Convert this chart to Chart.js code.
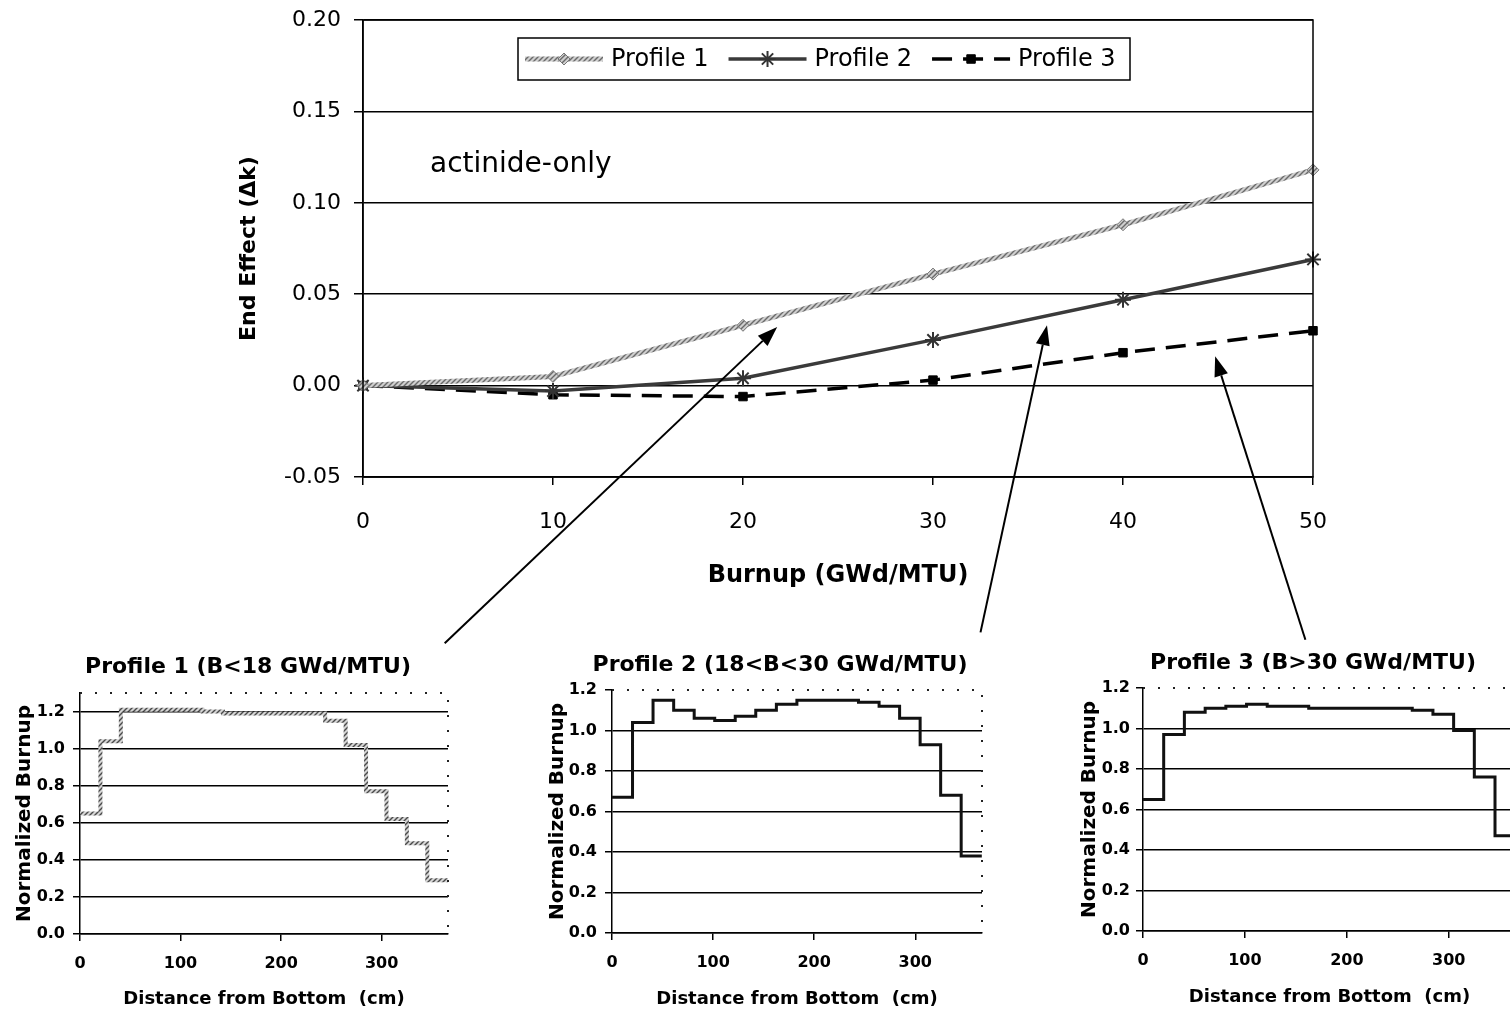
<!DOCTYPE html>
<html>
<head>
<meta charset="utf-8">
<script src="https://cdn.jsdelivr.net/npm/chart.js@4.4.1/dist/chart.umd.min.js"></script>
<style>
  html, body { margin: 0; padding: 0; background: #fff; overflow: hidden; }
  body { width: 1510px; height: 1016px; position: relative; }
  .box { position: absolute; }
</style>
</head>
<body>
<div class="box" style="left:0;top:0;width:1510px;height:660px"><canvas id="mainChart"></canvas></div>
<div class="box" style="left:0;top:650px;width:496px;height:366px"><canvas id="inset1"></canvas></div>
<div class="box" style="left:530px;top:650px;width:500px;height:366px"><canvas id="inset2"></canvas></div>
<div class="box" style="left:1060px;top:650px;width:506px;height:366px"><canvas id="inset3"></canvas></div>
<script>
// main chart: end effect vs burnup
const burnup = [0, 10, 20, 30, 40, 50];
const profile1 = [0.000, 0.005, 0.033, 0.061, 0.088, 0.118];
const profile2 = [0.000, -0.003, 0.004, 0.025, 0.047, 0.069];
const profile3 = [0.000, -0.005, -0.006, 0.003, 0.018, 0.030];

// axial profiles (18 nodes), node edges in cm
const nodeEdges = [0, 20.3, 40.6, 61.0, 81.3, 101.6, 121.9, 142.2, 162.6, 182.9,
  203.2, 223.5, 243.8, 264.2, 284.5, 304.8, 325.1, 345.4, 365.8];
const shape1 = [0.65, 1.04, 1.21, 1.21, 1.21, 1.21, 1.20, 1.19, 1.19, 1.19,
  1.19, 1.19, 1.15, 1.02, 0.77, 0.62, 0.49, 0.29];
const shape2 = [0.67, 1.04, 1.15, 1.10, 1.06, 1.05, 1.07, 1.10, 1.13, 1.15,
  1.15, 1.15, 1.14, 1.12, 1.06, 0.93, 0.68, 0.38];
const shape3 = [0.65, 0.97, 1.08, 1.10, 1.11, 1.12, 1.11, 1.11, 1.10, 1.10,
  1.10, 1.10, 1.10, 1.09, 1.07, 0.99, 0.76, 0.47];

// arrows from the insets up to the curves (data coords of main chart)
const arrowLinks = [
  { from: [4.3, -0.141], to: [21.8, 0.032] },
  { from: [32.5, -0.135], to: [36.0, 0.033] },
  { from: [49.6, -0.139], to: [44.85, 0.016] },
];

Chart.defaults.font.family = "'DejaVu Sans', sans-serif";
Chart.defaults.color = "#000";

function makeHatch(target, bg, fg) {
  const tile = document.createElement("canvas");
  tile.width = 5;
  tile.height = 5;
  const g = tile.getContext("2d");
  g.fillStyle = bg;
  g.fillRect(0, 0, 5, 5);
  g.strokeStyle = fg;
  g.lineWidth = 1.4;
  g.beginPath();
  g.moveTo(0, 5); g.lineTo(5, 0);
  g.moveTo(-1, 1); g.lineTo(1, -1);
  g.moveTo(4, 6); g.lineTo(6, 4);
  g.stroke();
  return target.getContext("2d").createPattern(tile, "repeat");
}

function fixBox(w, h) {
  return function (scale) {
    if (w !== null) scale.width = w;
    if (h !== null) scale.height = h;
    scale.paddingLeft = 0;
    scale.paddingRight = 0;
    scale.paddingTop = 0;
    scale.paddingBottom = 0;
  };
}

function toPoints(xs, ys) {
  return xs.map((x, i) => ({ x: x, y: ys[i] }));
}

function drawMarker(ctx, ds, x, y) {
  ctx.save();
  ctx.fillStyle = ds.pointBackgroundColor;
  ctx.strokeStyle = ds.pointBorderColor;
  ctx.lineWidth = ds.pointBorderWidth;
  if (Chart.helpers && Chart.helpers.drawPoint) {
    Chart.helpers.drawPoint(ctx, {
      pointStyle: ds.pointStyle,
      radius: ds.pointRadius,
      borderWidth: ds.pointBorderWidth,
      rotation: 0,
    }, x, y);
  } else {
    const r = ds.pointRadius;
    ctx.fillRect(x - r, y - r, 2 * r, 2 * r);
  }
  ctx.restore();
}

const frame = {
  id: "frame",
  afterDatasetsDraw(chart) {
    const { ctx, chartArea: a } = chart;
    ctx.save();
    ctx.strokeStyle = "#000";
    ctx.lineWidth = 1.5;
    ctx.strokeRect(a.left, a.top, a.right - a.left, a.bottom - a.top);
    ctx.restore();
  },
};

const notes = {
  id: "notes",
  afterDraw(chart) {
    const { ctx, chartArea: a } = chart;
    const xs = chart.scales.x, ys = chart.scales.y;
    ctx.save();

    // legend box
    const bx = a.left + 155, by = a.top + 18, bw = 612, bh = 42;
    ctx.fillStyle = "#fff";
    ctx.fillRect(bx, by, bw, bh);
    ctx.strokeStyle = "#000";
    ctx.lineWidth = 1.5;
    ctx.strokeRect(bx, by, bw, bh);
    ctx.font = "24px 'DejaVu Sans'";
    ctx.textBaseline = "middle";
    ctx.textAlign = "left";
    let x = bx + 7;
    const cy = by + bh / 2;
    chart.data.datasets.forEach((ds) => {
      ctx.save();
      ctx.strokeStyle = ds.borderColor;
      ctx.lineWidth = ds.borderWidth;
      ctx.setLineDash(ds.borderDash || []);
      ctx.beginPath();
      ctx.moveTo(x, cy);
      ctx.lineTo(x + 78, cy);
      ctx.stroke();
      ctx.restore();
      drawMarker(ctx, ds, x + 39, cy);
      ctx.fillStyle = "#000";
      ctx.fillText(ds.label, x + 86, cy + 1);
      x += 86 + ctx.measureText(ds.label).width + 20;
    });

    // note text
    ctx.font = "28px 'DejaVu Sans'";
    ctx.textBaseline = "alphabetic";
    ctx.fillStyle = "#000";
    ctx.fillText("actinide-only", a.left + 67, a.top + 152);

    // arrows
    ctx.strokeStyle = "#000";
    ctx.fillStyle = "#000";
    ctx.lineWidth = 2;
    arrowLinks.forEach((l) => {
      const x0 = xs.getPixelForValue(l.from[0]), y0 = ys.getPixelForValue(l.from[1]);
      const x1 = xs.getPixelForValue(l.to[0]), y1 = ys.getPixelForValue(l.to[1]);
      const ang = Math.atan2(y1 - y0, x1 - x0);
      const hl = 20, hw = 7;
      const bxp = x1 - hl * Math.cos(ang), byp = y1 - hl * Math.sin(ang);
      ctx.beginPath();
      ctx.moveTo(x0, y0);
      ctx.lineTo(bxp, byp);
      ctx.stroke();
      ctx.beginPath();
      ctx.moveTo(x1, y1);
      ctx.lineTo(bxp + hw * Math.sin(ang), byp - hw * Math.cos(ang));
      ctx.lineTo(bxp - hw * Math.sin(ang), byp + hw * Math.cos(ang));
      ctx.closePath();
      ctx.fill();
    });
    ctx.restore();
  },
};

const ctxMain = document.getElementById("mainChart");
const hatchMain = makeHatch(ctxMain, "#cfcfcf", "#6a6a6a");

new Chart(ctxMain, {
  type: "line",
  data: {
    datasets: [
      {
        label: "Profile 1",
        data: toPoints(burnup, profile1),
        borderColor: hatchMain,
        borderWidth: 5,
        pointStyle: "rectRot",
        pointRadius: 6,
        pointBackgroundColor: hatchMain,
        pointBorderColor: "#777",
        pointBorderWidth: 1,
        clip: false,
      },
      {
        label: "Profile 2",
        data: toPoints(burnup, profile2),
        borderColor: "#3a3a3a",
        borderWidth: 3.5,
        pointStyle: "star",
        pointRadius: 8,
        pointBackgroundColor: "#888",
        pointBorderColor: "#333",
        pointBorderWidth: 2,
        clip: false,
      },
      {
        label: "Profile 3",
        data: toPoints(burnup, profile3),
        borderColor: "#000",
        borderWidth: 3.5,
        borderDash: [20, 11],
        pointStyle: "rect",
        pointRadius: 6,
        pointBackgroundColor: "#000",
        pointBorderColor: "#000",
        pointBorderWidth: 1,
        clip: false,
      },
    ],
  },
  options: {
    animation: false,
    responsive: true,
    maintainAspectRatio: false,
    layout: { padding: { left: 0, top: 20, right: 197, bottom: 66 } },
    plugins: {
      legend: { display: false },
      tooltip: { enabled: false },
    },
    scales: {
      x: {
        type: "linear",
        min: 0,
        max: 50,
        ticks: { stepSize: 10, font: { size: 22 }, padding: 24, maxRotation: 0, color: "#000" },
        grid: { drawOnChartArea: false, tickLength: 8, color: "#000", lineWidth: 1.5 },
        border: { color: "#000", width: 1.5 },
        title: {
          display: true,
          text: "Burnup (GWd/MTU)",
          font: { size: 24, weight: "bold" },
          color: "#000",
          padding: { top: 0, bottom: 4 },
        },
        afterFit: fixBox(null, 117),
      },
      y: {
        min: -0.05,
        max: 0.2,
        ticks: {
          stepSize: 0.05,
          font: { size: 22 },
          padding: 13,
          color: "#000",
          callback: (v) => v.toFixed(2),
        },
        grid: { color: "#000", lineWidth: 1.5, tickLength: 9 },
        border: { color: "#000", width: 1.5 },
        title: {
          display: true,
          text: "End Effect (Δk)",
          font: { size: 22, weight: "bold" },
          color: "#000",
          padding: { top: 236, bottom: 0 },
        },
        afterFit: fixBox(363, null),
      },
    },
  },
  plugins: [frame, notes],
});

// dotted top / right edges of the small plots
const dottedFrame = {
  id: "dottedFrame",
  afterDraw(chart) {
    const { ctx, chartArea: a } = chart;
    ctx.save();
    ctx.setLineDash([2, 13]);
    ctx.strokeStyle = "#222";
    ctx.lineWidth = 2;
    ctx.beginPath();
    ctx.moveTo(a.left, a.top);
    ctx.lineTo(a.right, a.top);
    ctx.lineTo(a.right, a.bottom);
    ctx.stroke();
    ctx.restore();
  },
};

function makeInset(id, shape, cfg) {
  const el = document.getElementById(id);
  const stroke = cfg.hatched ? makeHatch(el, "#d4d4d4", "#4a4a4a") : "#111";
  const pts = toPoints(nodeEdges, shape.concat([shape[shape.length - 1]]));
  return new Chart(el, {
    type: "line",
    data: {
      datasets: [{
        data: pts,
        stepped: "before",
        borderColor: stroke,
        borderWidth: cfg.hatched ? 4 : 3,
        pointRadius: 0,
        fill: false,
      }],
    },
    options: {
      animation: false,
      responsive: true,
      maintainAspectRatio: false,
      layout: { padding: { left: 0, top: 0, right: 0, bottom: cfg.padBottom } },
      plugins: {
        legend: { display: false },
        tooltip: { enabled: false },
        title: {
          display: true,
          text: cfg.title,
          font: { size: 22, weight: "bold" },
          color: "#000",
          padding: { top: cfg.titleTop, bottom: cfg.titleBottom },
        },
      },
      scales: {
        x: {
          type: "linear",
          min: 0,
          max: 366,
          ticks: { stepSize: 100, font: { size: 16, weight: "bold" }, padding: 13, maxRotation: 0, color: "#000" },
          afterBuildTicks: (s) => { s.ticks = s.ticks.filter((t) => t.value % 100 === 0); },
          grid: { drawOnChartArea: false, tickLength: 7, color: "#000", lineWidth: 1.5 },
          border: { color: "#000", width: 1.5 },
          title: {
            display: true,
            text: "Distance from Bottom  (cm)",
            font: { size: 18, weight: "bold" },
            color: "#000",
            padding: { top: 0, bottom: 4 },
          },
          afterFit: fixBox(null, cfg.xHeight),
        },
        y: {
          min: 0,
          max: cfg.yMax,
          ticks: {
            stepSize: 0.2,
            font: { size: 16, weight: "bold" },
            padding: cfg.yPad,
            color: "#000",
            callback: (v) => v.toFixed(1),
          },
          afterBuildTicks: (s) => { s.ticks = s.ticks.filter((t) => t.value <= 1.2001); },
          grid: {
            color: (c) => (c.tick && c.tick.value > 1.19 && cfg.yMax <= 1.2 ? "rgba(0,0,0,0)" : "#000"),
            tickColor: "#000",
            lineWidth: 1.5,
            tickLength: 7,
          },
          border: { color: "#000", width: 1.5 },
          title: {
            display: true,
            text: "Normalized Burnup",
            font: { size: 20, weight: "bold" },
            color: "#000",
            padding: { top: cfg.yTitleTop, bottom: 0 },
          },
          afterFit: fixBox(cfg.yWidth, null),
        },
        // empty right-hand margin so the title centres like the original
        gap: {
          type: "linear",
          position: "right",
          ticks: { display: false },
          grid: { display: false },
          border: { display: false },
          afterFit: fixBox(cfg.gapWidth, null),
        },
      },
    },
    plugins: [dottedFrame],
  });
}

makeInset("inset1", shape1, {
  title: "Profile 1 (B<18 GWd/MTU)", hatched: true, yMax: 1.3,
  padBottom: 2, titleTop: 3.8, titleBottom: 12.8,
  xHeight: 80, yWidth: 80, yPad: 8, yTitleTop: 13, gapWidth: 48,
});
makeInset("inset2", shape2, {
  title: "Profile 2 (18<B<30 GWd/MTU)", hatched: false, yMax: 1.2,
  padBottom: 2, titleTop: 1.8, titleBottom: 11.8,
  xHeight: 81, yWidth: 82, yPad: 8, yTitleTop: 16, gapWidth: 48,
});
makeInset("inset3", shape3, {
  title: "Profile 3 (B>30 GWd/MTU)", hatched: false, yMax: 1.2,
  padBottom: 4, titleTop: 0, titleBottom: 11.6,
  xHeight: 81, yWidth: 83, yPad: 6, yTitleTop: 18, gapWidth: 50,
});
</script>
</body>
</html>
